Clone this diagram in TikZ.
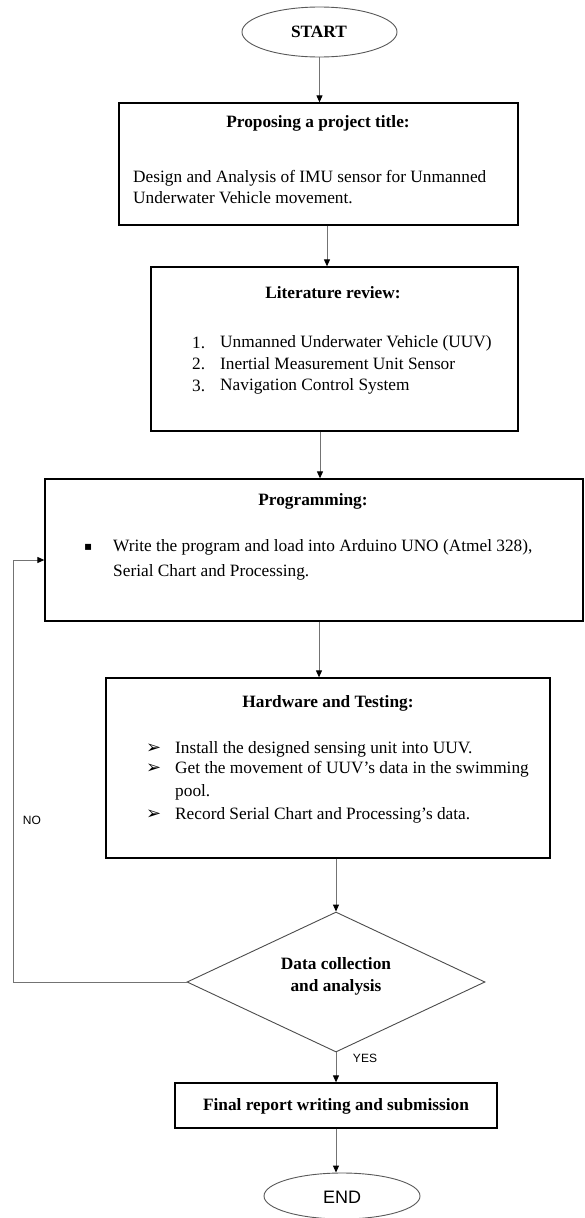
\documentclass[tikz,border=0pt]{standalone}
\usepackage{fontspec}
\setmainfont{Liberation Serif}
\newfontfamily\sansf{Liberation Sans}
\newfontfamily\symf{DejaVu Sans}
\usetikzlibrary{shapes.geometric,arrows.meta}
\begin{document}
\begin{tikzpicture}[x=1pt,y=-1pt,
  box/.style={draw=black,line width=1.3pt,rectangle,inner sep=0pt},
  oval/.style={draw=black!65,line width=0.9pt,ellipse,inner sep=0pt},
  dia/.style={draw=black!70,line width=0.9pt,diamond,inner sep=0pt},
  conn/.style={draw=black!55,line width=1pt},
  arr/.style={conn,-{Triangle[length=7pt,width=6pt,black]}},
  txt/.style={inner sep=0pt,font=\fontsize{17.3}{20}\selectfont},
  ttl/.style={inner sep=0pt,font=\fontsize{17.3}{20}\selectfont\bfseries},
  lab/.style={inner sep=0pt,font=\sansf\fontsize{12}{14}\selectfont},
  sym/.style={inner sep=0pt,font=\symf\fontsize{12}{14}\selectfont},
  arrsym/.style={inner sep=0pt,font=\symf\bfseries\fontsize{18}{18}\selectfont},
]
\useasboundingbox (0,0) rectangle (584,1218);
\fill[white] (0,0) rectangle (584,1218);

% shapes
\node[oval,minimum width=155pt,minimum height=50pt] (start) at (319.5,32) {};
\node[box,minimum width=399pt,minimum height=122pt] (b1) at (318.5,164) {};
\node[box,minimum width=367pt,minimum height=164pt] (b2) at (334.5,349) {};
\node[box,minimum width=538pt,minimum height=142pt] (b3) at (314,550) {};
\node[box,minimum width=444pt,minimum height=180pt] (b4) at (328,768) {};
\node[dia,minimum width=298pt,minimum height=140pt] (dia) at (336,982) {};
\node[box,minimum width=322pt,minimum height=45pt] (fin) at (336,1105.5) {};
\node[oval,minimum width=156pt,minimum height=46pt] (end) at (342,1196) {};

% texts
\node[ttl] (tstart) at (319,32) {START};

\node[ttl] (t1) at (318,123) {Proposing a project title:};
\node[txt,anchor=west] (t1a) at (133,178) {Design and Analysis of IMU sensor for Unmanned};
\node[txt,anchor=west] (t1b) at (133,198) {Underwater Vehicle movement.};

\node[ttl] (t2) at (333,293) {Literature review:};
\node[txt,anchor=west] (n1) at (192,343) {1.};
\node[txt,anchor=west] (l1) at (220,343) {Unmanned Underwater Vehicle (UUV)};
\node[txt,anchor=west] (n2) at (192,364) {2.};
\node[txt,anchor=west] (l2) at (220,364) {Inertial Measurement Unit Sensor};
\node[txt,anchor=west] (n3) at (192,386) {3.};
\node[txt,anchor=west] (l3) at (220,386) {Navigation Control System};

\node[ttl] (t3) at (313,501) {Programming:};
\node[sym,anchor=west] (p0) at (84,547) {▪};
\node[txt,anchor=west] (p1) at (113,547) {Write the program and load into Arduino UNO (Atmel 328),};
\node[txt,anchor=west] (p2) at (113,572) {Serial Chart and Processing.};

\node[ttl] (t4) at (328,703) {Hardware and Testing:};
\node[arrsym,anchor=west] (h1s) at (146,749) {➢};
\node[txt,anchor=west] (h1) at (175,749) {Install the designed sensing unit into UUV.};
\node[arrsym,anchor=west] (h2s) at (146,769) {➢};
\node[txt,anchor=west] (h2) at (175,769) {Get the movement of UUV's data in the swimming};
\node[txt,anchor=west] (h2b) at (175,792) {pool.};
\node[arrsym,anchor=west] (h3s) at (146,815) {➢};
\node[txt,anchor=west] (h3) at (175,815) {Record Serial Chart and Processing's data.};

\node[ttl] (td1) at (336,964) {Data collection};
\node[ttl] (td2) at (336,987) {and analysis};

\node[ttl] (tf) at (336,1106) {Final report writing and submission};
\node[inner sep=0pt,font=\sansf\fontsize{18}{20}\selectfont] (tend) at (342,1197) {END};

\node[lab] (no) at (32,820) {NO};
\node[lab] (yes) at (365,1058) {YES};

% connectors
\draw[arr] (start.south) -- (start.south |- b1.north);
\draw[arr] ([xshift=8.5pt]b1.south) -- ([xshift=8.5pt]b1.south |- b2.north);
\draw[arr] ([xshift=-14.5pt]b2.south) -- ([xshift=-14.5pt]b2.south |- b3.north);
\draw[arr] ([xshift=5pt]b3.south) -- ([xshift=5pt]b3.south |- b4.north);
\draw[arr] ([xshift=8pt]b4.south) -- ([xshift=8pt]b4.south |- dia.north);
\draw[arr] (dia.south) -- (dia.south |- fin.north);
\draw[arr] (fin.south) -- (fin.south |- end.north);
\coordinate (fbL) at (13,982);
\coordinate (fbT) at (13,560);
\draw[arr] (dia.west) -- (fbL) -- (fbT) -- (fbT -| b3.west);
\end{tikzpicture}
\end{document}
